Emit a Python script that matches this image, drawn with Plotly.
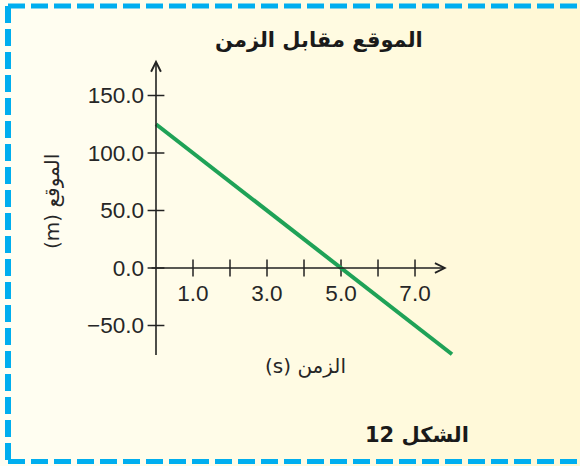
import plotly.graph_objects as go

# ---- data ----
time_s = [0, 8]
position_m = [125, -75]
x_tick_minor = [1, 2, 3, 4, 5, 6, 7]
x_tick_labels = ["1.0", "", "3.0", "", "5.0", "", "7.0"]
y_tick_vals = [-50, 0, 50, 100, 150]
y_tick_labels = ["\u221250.0", "0.0", "50.0", "100.0", "150.0"]
title_text = "الموقع مقابل الزمن"
x_title = "(s) الزمن"
y_title = "(m) الموقع"
caption = "الشكل 12"

W, H = 580, 466
XR = [-4.216, 11.459]
YR = [-172.17, 233.04]
x_axis_end = 7.86
y_axis_top = 181
y_axis_bottom = -77

x0_paper = (0 - XR[0]) / (XR[1] - XR[0])
y0_paper = (0 - YR[0]) / (YR[1] - YR[0])

AX = "#222222"
fig = go.Figure()

# crossing tick marks
fig.add_trace(go.Scatter(x=x_tick_minor, y=[0] * len(x_tick_minor), mode="markers",
                         marker=dict(symbol="line-ns", size=12, line=dict(color=AX, width=1.5)),
                         hoverinfo="skip", showlegend=False))
fig.add_trace(go.Scatter(x=[0] * len(y_tick_vals), y=y_tick_vals, mode="markers",
                         marker=dict(symbol="line-ew", size=12, line=dict(color=AX, width=1.5)),
                         hoverinfo="skip", showlegend=False))

# data line
fig.add_trace(go.Scatter(x=time_s, y=position_m, mode="lines",
                         line=dict(color="#1fa257", width=4), showlegend=False))

# axis lines with arrows
fig.add_annotation(x=x_axis_end, y=0, ax=-0.16, ay=0, xref="x", yref="y", axref="x", ayref="y",
                   showarrow=True, arrowhead=5, arrowsize=1.2, arrowwidth=1.6, arrowcolor=AX, text="")
fig.add_annotation(x=0, y=y_axis_top, ax=0, ay=y_axis_bottom, xref="x", yref="y", axref="x", ayref="y",
                   showarrow=True, arrowhead=5, arrowsize=1.2, arrowwidth=1.6, arrowcolor=AX, text="")

tickfont = dict(family="Liberation Sans, Arial", size=22.5, color="#262626")
fig.update_xaxes(range=XR, domain=[0, 1], anchor="free", position=y0_paper,
                 tickvals=x_tick_minor, ticktext=x_tick_labels, ticks="", showline=False,
                 showgrid=False, zeroline=False, tickfont=tickfont, ticklabelstandoff=9)
fig.update_yaxes(range=YR, domain=[0, 1], anchor="free", position=x0_paper,
                 tickvals=y_tick_vals, ticktext=y_tick_labels, ticks="", showline=False,
                 showgrid=False, zeroline=False, tickfont=tickfont, ticklabelstandoff=12)

# background gradient strips
c0 = (255, 254, 243)
c1 = (255, 248, 212)
n = 58
shapes = []
for i in range(n):
    t = i / (n - 1)
    c = tuple(round(c0[k] + (c1[k] - c0[k]) * t) for k in range(3))
    shapes.append(dict(type="rect", xref="paper", yref="paper", x0=i / n, x1=(i + 1) / n + 0.002,
                       y0=0, y1=1, fillcolor="rgb(%d,%d,%d)" % c, line=dict(width=0), layer="below"))

# dashed border (top, left, bottom)
BC = "#00aeef"
dash = "17px,6px"
bx = 8 / W
bt = 1 - 6 / H
bb = 1 - 461.5 / H
shapes.append(dict(type="line", xref="paper", yref="paper", x0=bx, x1=1, y0=bt, y1=bt,
                   line=dict(color=BC, width=5, dash=dash)))
shapes.append(dict(type="line", xref="paper", yref="paper", x0=bx, x1=bx, y0=bt, y1=bb,
                   line=dict(color=BC, width=6, dash=dash)))
shapes.append(dict(type="line", xref="paper", yref="paper", x0=bx, x1=1, y0=bb, y1=bb,
                   line=dict(color=BC, width=5, dash=dash)))

arfont_b = dict(family="DejaVu Sans", size=21, color="#1a1a1a", weight="bold")
arfont = dict(family="DejaVu Sans", size=20, color="#262626")
common = dict(xref="paper", yref="paper", showarrow=False, xanchor="center", yanchor="middle")
fig.add_annotation(text=title_text, x=319 / W, y=1 - 40 / H, font=arfont_b, **common)
fig.add_annotation(text=caption, x=417 / W, y=1 - 435 / H, font=arfont_b, **common)
fig.add_annotation(text=x_title, x=305 / W, y=1 - 366 / H, font=arfont, **common)
fig.add_annotation(text=y_title, x=52 / W, y=1 - 202 / H, font=arfont, textangle=-90, **common)

fig.update_layout(width=W, height=H, margin=dict(l=0, r=0, t=0, b=0),
                  paper_bgcolor="#fffef3", plot_bgcolor="rgba(0,0,0,0)", shapes=shapes,
                  showlegend=False)

fig.write_html("out.html", config={"displayModeBar": False},
               post_script="document.body.style.margin='0px';")
